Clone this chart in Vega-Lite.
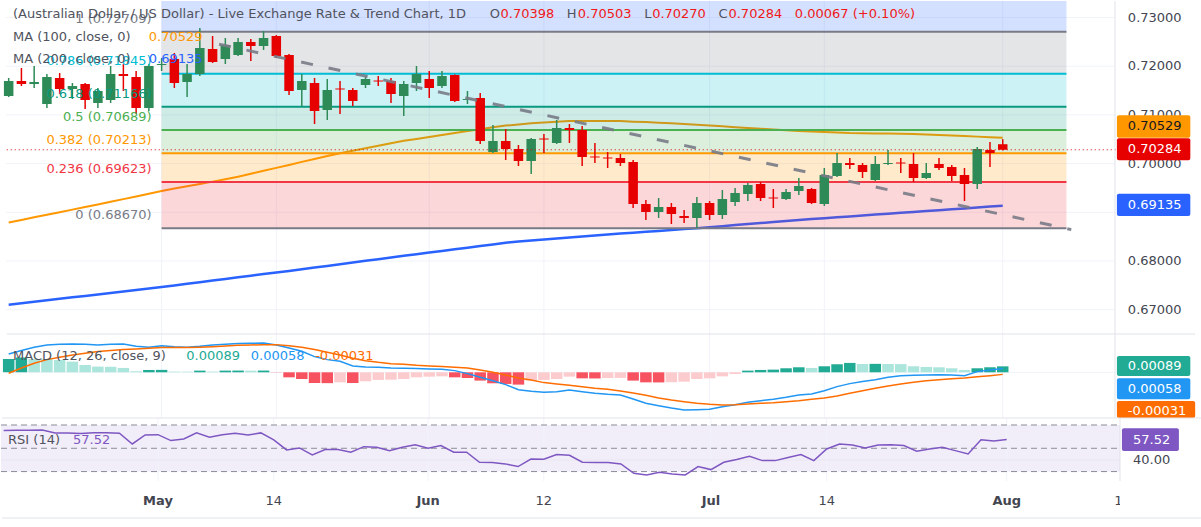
{
"$schema":"https://vega.github.io/schema/vega-lite/v6.json",
"padding":0,
"background":"#ffffff",
"spacing":0,
"bounds":"flush",
"resolve":{"scale":{"color":"independent","fill":"independent","stroke":"independent"}},
"config":{"view":{"stroke":null},"font":"DejaVu Sans","text":{"font":"DejaVu Sans","fontSize":13}},
"datasets":{
"bars":[
{"i":-12,"date":"2026-04-15","o":0.71388,"h":0.71758,"l":0.71368,"c":0.71696,"dir":"up","ma100":0.68791,"ma200":0.67103,"macd":0.00274,"signal":-0.00015,"hist":0.0020,"hs":"pu","rsi":65.2},
{"i":-11,"date":"2026-04-16","o":0.71696,"h":0.71963,"l":0.71593,"c":0.71635,"dir":"down","ma100":0.68844,"ma200":0.67133,"macd":0.00324,"signal":0.00065,"hist":0.0022,"hs":"pu","rsi":65.5},
{"i":-10,"date":"2026-04-17","o":0.71635,"h":0.72004,"l":0.71552,"c":0.71676,"dir":"up","ma100":0.68897,"ma200":0.67164,"macd":0.00374,"signal":0.00134,"hist":0.00199,"hs":"pd","rsi":65.5},
{"i":-9,"date":"2026-04-20","o":0.71224,"h":0.71840,"l":0.71142,"c":0.71778,"dir":"up","ma100":0.68951,"ma200":0.67193,"macd":0.00408,"signal":0.00189,"hist":0.00195,"hs":"pd","rsi":65.7},
{"i":-8,"date":"2026-04-21","o":0.71758,"h":0.71860,"l":0.71429,"c":0.71532,"dir":"down","ma100":0.69002,"ma200":0.67224,"macd":0.00418,"signal":0.00224,"hist":0.00184,"hs":"pd","rsi":63.2},
{"i":-7,"date":"2026-04-22","o":0.71532,"h":0.71655,"l":0.71326,"c":0.71593,"dir":"up","ma100":0.69055,"ma200":0.67255,"macd":0.00423,"signal":0.00259,"hist":0.00159,"hs":"pd","rsi":63.2},
{"i":-6,"date":"2026-04-23","o":0.71635,"h":0.71655,"l":0.71121,"c":0.71306,"dir":"down","ma100":0.69109,"ma200":0.67283,"macd":0.00418,"signal":0.00284,"hist":0.00109,"hs":"pd","rsi":62.6},
{"i":-5,"date":"2026-04-24","o":0.71244,"h":0.71552,"l":0.71142,"c":0.71491,"dir":"up","ma100":0.69160,"ma200":0.67314,"macd":0.00408,"signal":0.00309,"hist":0.00085,"hs":"pd","rsi":63.4},
{"i":-4,"date":"2026-04-27","o":0.71306,"h":0.72004,"l":0.71244,"c":0.71840,"dir":"up","ma100":0.69216,"ma200":0.67345,"macd":0.00418,"signal":0.00324,"hist":0.00082,"hs":"pd","rsi":63.4},
{"i":-3,"date":"2026-04-28","o":0.71840,"h":0.72045,"l":0.71491,"c":0.71799,"dir":"down","ma100":0.69271,"ma200":0.67376,"macd":0.00423,"signal":0.00339,"hist":0.00065,"hs":"pd","rsi":62.9},
{"i":-2,"date":"2026-04-29","o":0.71778,"h":0.71901,"l":0.71018,"c":0.71142,"dir":"down","ma100":0.69326,"ma200":0.67405,"macd":0.00388,"signal":0.00349,"hist":0.00015,"hs":"pd","rsi":53.7},
{"i":-1,"date":"2026-04-30","o":0.71142,"h":0.72045,"l":0.71080,"c":0.72004,"dir":"up","ma100":0.69382,"ma200":0.67435,"macd":0.00374,"signal":0.00359,"hist":0.00035,"hs":"pu","rsi":61.4},
{"i":0,"date":"2026-05-01","o":0.72025,"h":0.72168,"l":0.71901,"c":0.72045,"dir":"up","ma100":0.69437,"ma200":0.67466,"macd":0.00398,"signal":0.00369,"hist":0.00036,"hs":"pu","rsi":61.7},
{"i":1,"date":"2026-05-04","o":0.72148,"h":0.72271,"l":0.71552,"c":0.71655,"dir":"down","ma100":0.69487,"ma200":0.67499,"macd":0.00383,"signal":0.00369,"hist":0.0001,"hs":"pd","rsi":56.6},
{"i":2,"date":"2026-05-05","o":0.71676,"h":0.72045,"l":0.71368,"c":0.71840,"dir":"up","ma100":0.69534,"ma200":0.67532,"macd":0.00374,"signal":0.00369,"hist":0.00009,"hs":"pd","rsi":58.0},
{"i":3,"date":"2026-05-06","o":0.71840,"h":0.72784,"l":0.71799,"c":0.72374,"dir":"up","ma100":0.69583,"ma200":0.67565,"macd":0.00388,"signal":0.00374,"hist":0.00025,"hs":"pu","rsi":63.2},
{"i":4,"date":"2026-05-07","o":0.72353,"h":0.72620,"l":0.72066,"c":0.72086,"dir":"down","ma100":0.69630,"ma200":0.67600,"macd":0.00408,"signal":0.00383,"hist":0.0001,"hs":"pd","rsi":59.4},
{"i":5,"date":"2026-05-08","o":0.72148,"h":0.72579,"l":0.72045,"c":0.72435,"dir":"up","ma100":0.69680,"ma200":0.67632,"macd":0.00418,"signal":0.00393,"hist":0.00025,"hs":"pu","rsi":61.7},
{"i":6,"date":"2026-05-11","o":0.72230,"h":0.72579,"l":0.72209,"c":0.72497,"dir":"up","ma100":0.69731,"ma200":0.67665,"macd":0.00428,"signal":0.00403,"hist":0.00026,"hs":"pu","rsi":62.9},
{"i":7,"date":"2026-05-12","o":0.72497,"h":0.72559,"l":0.72107,"c":0.72415,"dir":"down","ma100":0.69791,"ma200":0.67698,"macd":0.00433,"signal":0.00408,"hist":0.00024,"hs":"pd","rsi":61.4},
{"i":8,"date":"2026-05-13","o":0.72415,"h":0.72723,"l":0.72333,"c":0.72579,"dir":"up","ma100":0.69852,"ma200":0.67731,"macd":0.00438,"signal":0.00413,"hist":0.00026,"hs":"pu","rsi":63.2},
{"i":9,"date":"2026-05-14","o":0.72620,"h":0.72641,"l":0.72168,"c":0.72209,"dir":"down","ma100":0.69912,"ma200":0.67764,"macd":0.00408,"signal":0.00413,"hist":-0.00003,"hs":"nd","rsi":57.2},
{"i":10,"date":"2026-05-15","o":0.72230,"h":0.72251,"l":0.71409,"c":0.71491,"dir":"down","ma100":0.69973,"ma200":0.67797,"macd":0.00364,"signal":0.00398,"hist":-0.00075,"hs":"nd","rsi":48.6},
{"i":11,"date":"2026-05-18","o":0.71511,"h":0.71840,"l":0.71183,"c":0.71696,"dir":"up","ma100":0.70035,"ma200":0.67832,"macd":0.00314,"signal":0.00374,"hist":-0.001,"hs":"nd","rsi":50.3},
{"i":12,"date":"2026-05-19","o":0.71655,"h":0.71758,"l":0.70813,"c":0.71080,"dir":"down","ma100":0.70094,"ma200":0.67866,"macd":0.00234,"signal":0.00339,"hist":-0.0016,"hs":"nd","rsi":44.3},
{"i":13,"date":"2026-05-20","o":0.71101,"h":0.71737,"l":0.70895,"c":0.71511,"dir":"up","ma100":0.70156,"ma200":0.67899,"macd":0.00189,"signal":0.00299,"hist":-0.00162,"hs":"nd","rsi":48.9},
{"i":14,"date":"2026-05-21","o":0.71542,"h":0.71696,"l":0.71018,"c":0.71522,"dir":"down","ma100":0.70214,"ma200":0.67934,"macd":0.00164,"signal":0.00259,"hist":-0.0015,"hs":"nu","rsi":48.9},
{"i":15,"date":"2026-05-22","o":0.71511,"h":0.71552,"l":0.71183,"c":0.71285,"dir":"down","ma100":0.70265,"ma200":0.67969,"macd":0.00095,"signal":0.00209,"hist":-0.0016,"hs":"nd","rsi":46.6},
{"i":16,"date":"2026-05-25","o":0.71614,"h":0.71799,"l":0.71552,"c":0.71737,"dir":"up","ma100":0.70316,"ma200":0.68004,"macd":0.0008,"signal":0.00174,"hist":-0.00134,"hs":"nu","rsi":51.4},
{"i":17,"date":"2026-05-26","o":0.71706,"h":0.71799,"l":0.71593,"c":0.71686,"dir":"down","ma100":0.70368,"ma200":0.68037,"macd":0.00075,"signal":0.00149,"hist":-0.00114,"hs":"nu","rsi":50.9},
{"i":18,"date":"2026-05-27","o":0.71696,"h":0.71758,"l":0.71244,"c":0.71429,"dir":"down","ma100":0.70419,"ma200":0.68072,"macd":0.00065,"signal":0.00129,"hist":-0.0011,"hs":"nu","rsi":48.0},
{"i":19,"date":"2026-05-28","o":0.71388,"h":0.71696,"l":0.70977,"c":0.71635,"dir":"up","ma100":0.70468,"ma200":0.68107,"macd":0.0006,"signal":0.0012,"hist":-0.001,"hs":"nu","rsi":50.9},
{"i":20,"date":"2026-05-29","o":0.71655,"h":0.72004,"l":0.71491,"c":0.71840,"dir":"up","ma100":0.70507,"ma200":0.68140,"macd":0.00055,"signal":0.00105,"hist":-0.00075,"hs":"nu","rsi":53.1},
{"i":21,"date":"2026-06-01","o":0.71737,"h":0.71901,"l":0.71347,"c":0.71552,"dir":"down","ma100":0.70548,"ma200":0.68175,"macd":0.0005,"signal":0.00095,"hist":-0.00065,"hs":"nu","rsi":50.0},
{"i":22,"date":"2026-06-02","o":0.71593,"h":0.71901,"l":0.71552,"c":0.71799,"dir":"up","ma100":0.70587,"ma200":0.68207,"macd":0.00045,"signal":0.00085,"hist":-0.0006,"hs":"nu","rsi":52.3},
{"i":23,"date":"2026-06-03","o":0.71819,"h":0.71830,"l":0.71265,"c":0.71285,"dir":"down","ma100":0.70628,"ma200":0.68240,"macd":0.00025,"signal":0.00075,"hist":-0.00075,"hs":"nd","rsi":46.6},
{"i":24,"date":"2026-06-04","o":0.71306,"h":0.71491,"l":0.71224,"c":0.71326,"dir":"up","ma100":0.70667,"ma200":0.68273,"macd":-0.0002,"signal":0.00065,"hist":-0.00085,"hs":"nd","rsi":46.6},
{"i":25,"date":"2026-06-05","o":0.71347,"h":0.71450,"l":0.70402,"c":0.70464,"dir":"down","ma100":0.70706,"ma200":0.68308,"macd":-0.00075,"signal":0.00035,"hist":-0.00124,"hs":"nd","rsi":38.0},
{"i":26,"date":"2026-06-08","o":0.70238,"h":0.70793,"l":0.70218,"c":0.70464,"dir":"up","ma100":0.70747,"ma200":0.68341,"macd":-0.00125,"signal":0.0,"hist":-0.00164,"hs":"nd","rsi":37.7},
{"i":27,"date":"2026-06-09","o":0.70464,"h":0.70710,"l":0.70074,"c":0.70300,"dir":"down","ma100":0.70780,"ma200":0.68374,"macd":-0.00184,"signal":-0.0004,"hist":-0.00174,"hs":"nd","rsi":36.6},
{"i":28,"date":"2026-06-10","o":0.70300,"h":0.70382,"l":0.69951,"c":0.70053,"dir":"down","ma100":0.70803,"ma200":0.68400,"macd":-0.00259,"signal":-0.00085,"hist":-0.00184,"hs":"nd","rsi":34.3},
{"i":29,"date":"2026-06-11","o":0.70053,"h":0.70526,"l":0.69786,"c":0.70505,"dir":"up","ma100":0.70828,"ma200":0.68421,"macd":-0.00284,"signal":-0.00115,"hist":-0.00124,"hs":"nu","rsi":40.8},
{"i":30,"date":"2026-06-12","o":0.70515,"h":0.70608,"l":0.70218,"c":0.70495,"dir":"down","ma100":0.70846,"ma200":0.68441,"macd":-0.00299,"signal":-0.00154,"hist":-0.00114,"hs":"nu","rsi":40.6},
{"i":31,"date":"2026-06-15","o":0.70423,"h":0.70895,"l":0.70402,"c":0.70731,"dir":"up","ma100":0.70860,"ma200":0.68462,"macd":-0.00289,"signal":-0.00174,"hist":-0.001,"hs":"nu","rsi":44.6},
{"i":32,"date":"2026-06-16","o":0.70731,"h":0.70813,"l":0.70423,"c":0.70690,"dir":"down","ma100":0.70875,"ma200":0.68483,"macd":-0.00264,"signal":-0.00194,"hist":-0.00065,"hs":"nu","rsi":44.0},
{"i":33,"date":"2026-06-17","o":0.70690,"h":0.70772,"l":0.69951,"c":0.70135,"dir":"down","ma100":0.70875,"ma200":0.68503,"macd":-0.00289,"signal":-0.00214,"hist":-0.0009,"hs":"nd","rsi":38.0},
{"i":34,"date":"2026-06-18","o":0.70146,"h":0.70423,"l":0.70012,"c":0.70126,"dir":"down","ma100":0.70875,"ma200":0.68524,"macd":-0.00314,"signal":-0.00239,"hist":-0.00092,"hs":"nd","rsi":37.7},
{"i":35,"date":"2026-06-19","o":0.70125,"h":0.70238,"l":0.69910,"c":0.70105,"dir":"down","ma100":0.70875,"ma200":0.68544,"macd":-0.00329,"signal":-0.00254,"hist":-0.00085,"hs":"nu","rsi":37.7},
{"i":36,"date":"2026-06-22","o":0.70115,"h":0.70197,"l":0.69951,"c":0.70012,"dir":"down","ma100":0.70873,"ma200":0.68563,"macd":-0.00339,"signal":-0.00279,"hist":-0.00084,"hs":"nu","rsi":36.6},
{"i":37,"date":"2026-06-23","o":0.70033,"h":0.70074,"l":0.69088,"c":0.69170,"dir":"down","ma100":0.70862,"ma200":0.68581,"macd":-0.00398,"signal":-0.00309,"hist":-0.00124,"hs":"nd","rsi":28.5},
{"i":38,"date":"2026-06-24","o":0.69170,"h":0.69253,"l":0.68842,"c":0.69006,"dir":"down","ma100":0.70852,"ma200":0.68600,"macd":-0.00463,"signal":-0.00344,"hist":-0.0015,"hs":"nd","rsi":27.1},
{"i":39,"date":"2026-06-25","o":0.69006,"h":0.69294,"l":0.68883,"c":0.69109,"dir":"up","ma100":0.70840,"ma200":0.68618,"macd":-0.00498,"signal":-0.00383,"hist":-0.00151,"hs":"nd","rsi":29.4},
{"i":40,"date":"2026-06-26","o":0.69109,"h":0.69191,"l":0.68760,"c":0.68965,"dir":"down","ma100":0.70828,"ma200":0.68637,"macd":-0.00533,"signal":-0.00413,"hist":-0.00148,"hs":"nu","rsi":28.0},
{"i":41,"date":"2026-06-29","o":0.68924,"h":0.69047,"l":0.68780,"c":0.68883,"dir":"down","ma100":0.70813,"ma200":0.68655,"macd":-0.00563,"signal":-0.00438,"hist":-0.0014,"hs":"nu","rsi":27.1},
{"i":42,"date":"2026-06-30","o":0.68883,"h":0.69314,"l":0.68678,"c":0.69191,"dir":"up","ma100":0.70797,"ma200":0.68674,"macd":-0.00558,"signal":-0.00463,"hist":-0.001,"hs":"nu","rsi":34.3},
{"i":43,"date":"2026-07-01","o":0.69191,"h":0.69232,"l":0.68842,"c":0.68944,"dir":"down","ma100":0.70780,"ma200":0.68694,"macd":-0.00553,"signal":-0.00478,"hist":-0.0009,"hs":"nu","rsi":31.7},
{"i":44,"date":"2026-07-02","o":0.68944,"h":0.69458,"l":0.68862,"c":0.69273,"dir":"up","ma100":0.70766,"ma200":0.68715,"macd":-0.00513,"signal":-0.00488,"hist":-0.0006,"hs":"nu","rsi":38.0},
{"i":45,"date":"2026-07-03","o":0.69211,"h":0.69499,"l":0.69129,"c":0.69396,"dir":"up","ma100":0.70749,"ma200":0.68737,"macd":-0.00483,"signal":-0.00483,"hist":-0.00025,"hs":"nu","rsi":40.3},
{"i":46,"date":"2026-07-06","o":0.69376,"h":0.69602,"l":0.69232,"c":0.69561,"dir":"up","ma100":0.70733,"ma200":0.68758,"macd":-0.00448,"signal":-0.00473,"hist":0.00025,"hs":"pu","rsi":43.1},
{"i":47,"date":"2026-07-07","o":0.69581,"h":0.69622,"l":0.69232,"c":0.69294,"dir":"down","ma100":0.70717,"ma200":0.68778,"macd":-0.00423,"signal":-0.00463,"hist":0.00035,"hs":"pu","rsi":39.4},
{"i":48,"date":"2026-07-08","o":0.69304,"h":0.69478,"l":0.69088,"c":0.69284,"dir":"down","ma100":0.70702,"ma200":0.68799,"macd":-0.00403,"signal":-0.00453,"hist":0.0004,"hs":"pu","rsi":39.4},
{"i":49,"date":"2026-07-09","o":0.69273,"h":0.69478,"l":0.69253,"c":0.69417,"dir":"up","ma100":0.70686,"ma200":0.68821,"macd":-0.00374,"signal":-0.00438,"hist":0.0006,"hs":"pu","rsi":42.0},
{"i":50,"date":"2026-07-10","o":0.69437,"h":0.69704,"l":0.69355,"c":0.69540,"dir":"up","ma100":0.70669,"ma200":0.68842,"macd":-0.00339,"signal":-0.00423,"hist":0.00075,"hs":"pu","rsi":44.6},
{"i":51,"date":"2026-07-13","o":0.69478,"h":0.69499,"l":0.69170,"c":0.69191,"dir":"down","ma100":0.70659,"ma200":0.68860,"macd":-0.00324,"signal":-0.00403,"hist":0.00065,"hs":"pd","rsi":39.4},
{"i":52,"date":"2026-07-14","o":0.69170,"h":0.69910,"l":0.69129,"c":0.69766,"dir":"up","ma100":0.70649,"ma200":0.68879,"macd":-0.00274,"signal":-0.00383,"hist":0.0009,"hs":"pu","rsi":49.4},
{"i":53,"date":"2026-07-15","o":0.69745,"h":0.70218,"l":0.69725,"c":0.70012,"dir":"up","ma100":0.70639,"ma200":0.68897,"macd":-0.00214,"signal":-0.00354,"hist":0.0012,"hs":"pu","rsi":53.7},
{"i":54,"date":"2026-07-16","o":0.70012,"h":0.70115,"l":0.69889,"c":0.69971,"dir":"down","ma100":0.70628,"ma200":0.68916,"macd":-0.00169,"signal":-0.00314,"hist":0.0014,"hs":"pu","rsi":52.9},
{"i":55,"date":"2026-07-17","o":0.69971,"h":0.70012,"l":0.69704,"c":0.69827,"dir":"down","ma100":0.70624,"ma200":0.68934,"macd":-0.00139,"signal":-0.00274,"hist":0.00124,"hs":"pd","rsi":50.3},
{"i":56,"date":"2026-07-20","o":0.69663,"h":0.70156,"l":0.69643,"c":0.69992,"dir":"up","ma100":0.70620,"ma200":0.68953,"macd":-0.0011,"signal":-0.00239,"hist":0.00126,"hs":"pu","rsi":52.9},
{"i":57,"date":"2026-07-21","o":0.69992,"h":0.70279,"l":0.69971,"c":0.70012,"dir":"up","ma100":0.70616,"ma200":0.68971,"macd":-0.00075,"signal":-0.00204,"hist":0.00124,"hs":"pd","rsi":53.1},
{"i":58,"date":"2026-07-22","o":0.70022,"h":0.70115,"l":0.69807,"c":0.70002,"dir":"down","ma100":0.70612,"ma200":0.68990,"macd":-0.0005,"signal":-0.00174,"hist":0.00122,"hs":"pd","rsi":52.3},
{"i":59,"date":"2026-07-23","o":0.69992,"h":0.70218,"l":0.69622,"c":0.69704,"dir":"down","ma100":0.70608,"ma200":0.69008,"macd":-0.00045,"signal":-0.00149,"hist":0.0009,"hs":"pd","rsi":47.4},
{"i":60,"date":"2026-07-24","o":0.69704,"h":0.70012,"l":0.69684,"c":0.69807,"dir":"up","ma100":0.70597,"ma200":0.69027,"macd":-0.0004,"signal":-0.00125,"hist":0.0008,"hs":"pd","rsi":49.4},
{"i":61,"date":"2026-07-27","o":0.69992,"h":0.70115,"l":0.69869,"c":0.69910,"dir":"down","ma100":0.70587,"ma200":0.69043,"macd":-0.00035,"signal":-0.0011,"hist":0.00075,"hs":"pd","rsi":50.9},
{"i":62,"date":"2026-07-28","o":0.69930,"h":0.69971,"l":0.69643,"c":0.69745,"dir":"down","ma100":0.70577,"ma200":0.69062,"macd":-0.0004,"signal":-0.00095,"hist":0.0006,"hs":"pd","rsi":48.0},
{"i":63,"date":"2026-07-29","o":0.69766,"h":0.69910,"l":0.69232,"c":0.69581,"dir":"down","ma100":0.70567,"ma200":0.69080,"macd":-0.0005,"signal":-0.00085,"hist":0.00035,"hs":"pd","rsi":45.1},
{"i":64,"date":"2026-07-30","o":0.69581,"h":0.70341,"l":0.69478,"c":0.70300,"dir":"up","ma100":0.70554,"ma200":0.69099,"macd":0.0001,"signal":-0.00065,"hist":0.0006,"hs":"pu","rsi":57.4},
{"i":65,"date":"2026-07-31","o":0.70279,"h":0.70443,"l":0.69930,"c":0.70218,"dir":"down","ma100":0.70542,"ma200":0.69117,"macd":0.00035,"signal":-0.0005,"hist":0.00075,"hs":"pu","rsi":56.3},
{"i":66,"date":"2026-08-03","o":0.70398,"h":0.70503,"l":0.70270,"c":0.70284,"dir":"down","ma100":0.70529,"ma200":0.69135,"macd":0.00058,"signal":-0.00031,"hist":0.00089,"hs":"pu","rsi":57.52}
],
"fibBands":[
{"level":"0.236","lo":0.6867,"hi":0.69623},
{"level":"0.382","lo":0.69623,"hi":0.70213},
{"level":"0.5","lo":0.70213,"hi":0.70689},
{"level":"0.618","lo":0.70689,"hi":0.71166},
{"level":"0.786","lo":0.71166,"hi":0.71845},
{"level":"1","lo":0.71845,"hi":0.72709},
{"level":"1.618","lo":0.72709,"hi":0.75205}
],
"fibLevels":[
{"level":"0","price":0.6867,"label":"0 (0.68670)"},
{"level":"0.236","price":0.69623,"label":"0.236 (0.69623)"},
{"level":"0.382","price":0.70213,"label":"0.382 (0.70213)"},
{"level":"0.5","price":0.70689,"label":"0.5 (0.70689)"},
{"level":"0.618","price":0.71166,"label":"0.618 (0.71166)"},
{"level":"0.786","price":0.71845,"label":"0.786 (0.71845)"},
{"level":"1","price":0.72709,"label":"1 (0.72709)"}
],
"trend":[{"i":4.51,"p":0.72452},{"i":71.38,"p":0.68645}],
"xTicks":[{"i":0},{"i":9},{"i":21},{"i":30},{"i":43},{"i":52},{"i":66}],
"priceTicks":[{"v":0.67,"label":"0.67000"},{"v":0.68,"label":"0.68000"},{"v":0.69,"label":"0.69000"},{"v":0.70,"label":"0.70000"},{"v":0.71,"label":"0.71000"},{"v":0.72,"label":"0.72000"},{"v":0.73,"label":"0.73000"}],
"rsiLevels":[{"v":70},{"v":50},{"v":30}],
"timeLabels":[
{"i":0,"label":"May","kind":"month"},
{"i":9,"label":"14","kind":"day"},
{"i":21,"label":"Jun","kind":"month"},
{"i":30,"label":"12","kind":"day"},
{"i":43,"label":"Jul","kind":"month"},
{"i":52,"label":"14","kind":"day"},
{"i":66,"label":"Aug","kind":"month"},
{"i":75,"label":"14","kind":"day"}
]
},
"vconcat":[
{
"width":1119,"height":333,
"layer":[
{"data":{"name":"xTicks"},"mark":{"type":"rule","color":"#f0f3fa","strokeWidth":1},
 "encoding":{"x":{"field":"i","type":"quantitative","scale":{"domain":[-12.21,74.81],"nice":false,"zero":false},"axis":null},"y":{"datum":0.66501,"type":"quantitative","axis":null},"y2":{"datum":0.73339}}},
{"data":{"name":"priceTicks"},"mark":{"type":"rule","color":"#f0f3fa","strokeWidth":1},
 "encoding":{"x":{"datum":-12.21,"type":"quantitative","axis":null},"x2":{"datum":74.81},"y":{"field":"v","type":"quantitative","scale":{"domain":[0.66501,0.73339],"nice":false,"zero":false},"axis":null}}},
{"data":{"name":"bars"},"mark":{"type":"line","color":"#2962ff","strokeWidth":2.5,"clip":true},
 "encoding":{"x":{"field":"i","type":"quantitative","axis":null},"y":{"field":"ma200","type":"quantitative","axis":null}}},
{"data":{"name":"bars"},"mark":{"type":"line","color":"#ff9800","strokeWidth":2,"clip":true},
 "encoding":{"x":{"field":"i","type":"quantitative","axis":null},"y":{"field":"ma100","type":"quantitative","axis":null}}},
{"data":{"name":"fibBands"},"mark":{"type":"rect","fillOpacity":0.2,"clip":true},
 "encoding":{"x":{"datum":0,"type":"quantitative","axis":null},"x2":{"datum":71},"y":{"field":"lo","type":"quantitative","axis":null},"y2":{"field":"hi"},
  "fill":{"field":"level","type":"nominal","legend":null,"scale":{"domain":["0.236","0.382","0.5","0.618","0.786","1","1.618"],"range":["#f23645","#ff9800","#4caf50","#089981","#00bcd4","#787b86","#2962ff"]}}}},
{"data":{"name":"fibLevels"},"mark":{"type":"rule","strokeWidth":2,"clip":true},
 "encoding":{"x":{"datum":0,"type":"quantitative","axis":null},"x2":{"datum":71},"y":{"field":"price","type":"quantitative","axis":null},
  "stroke":{"field":"level","type":"nominal","legend":null,"scale":{"domain":["0","0.236","0.382","0.5","0.618","0.786","1"],"range":["#787b86","#f23645","#ff9800","#4caf50","#089981","#00bcd4","#787b86"]}}}},
{"data":{"name":"bars"},"mark":{"type":"rule","strokeWidth":1.5,"clip":true},
 "encoding":{"x":{"field":"i","type":"quantitative","axis":null},"y":{"field":"l","type":"quantitative","axis":null},"y2":{"field":"h"},
  "color":{"field":"dir","type":"nominal","legend":null,"scale":{"domain":["up","down","0","0.236","0.382","0.5","0.618","0.786","1"],"range":["#2e8b57","#e60000","#787b86","#f23645","#ff9800","#4caf50","#089981","#00bcd4","#787b86"]}}}},
{"data":{"name":"bars"},"mark":{"type":"bar","width":9.5,"clip":true},
 "encoding":{"x":{"field":"i","type":"quantitative","axis":null},"y":{"field":"o","type":"quantitative","axis":null},"y2":{"field":"c"},
  "color":{"field":"dir","type":"nominal","legend":null,"scale":{"domain":["up","down","0","0.236","0.382","0.5","0.618","0.786","1"],"range":["#2e8b57","#e60000","#787b86","#f23645","#ff9800","#4caf50","#089981","#00bcd4","#787b86"]}}}},
{"data":{"name":"trend"},"mark":{"type":"line","color":"#787b86","strokeWidth":3,"strokeDash":[12,16],"opacity":0.9,"clip":true},
 "encoding":{"x":{"field":"i","type":"quantitative","axis":null},"y":{"field":"p","type":"quantitative","axis":null}}},
{"data":{"values":[{"last":0.70284}]},"mark":{"type":"rule","color":"#e60000","strokeWidth":1,"strokeDash":[1,3]},
 "encoding":{"x":{"datum":-12.15,"type":"quantitative","axis":null},"x2":{"datum":74.96},"y":{"field":"last","type":"quantitative","axis":null}}},
{"data":{"values":[{}]},"mark":{"type":"rule","color":"#e0e3eb","strokeWidth":1},
 "encoding":{"x":{"datum":74.81,"type":"quantitative","axis":null},"y":{"datum":0.66501,"type":"quantitative","axis":null},"y2":{"datum":0.73339}}},
{"data":{"name":"priceTicks"},"mark":{"type":"text","align":"left","baseline":"middle","fontSize":13,"color":"#434651"},
 "encoding":{"x":{"datum":75.82,"type":"quantitative","axis":null},"y":{"field":"v","type":"quantitative","axis":null},"text":{"field":"label"}}},
{"data":{"name":"fibLevels"},"mark":{"type":"text","align":"right","baseline":"middle","dy":-13,"fontSize":13},
 "encoding":{"x":{"datum":-0.78,"type":"quantitative","axis":null},"y":{"field":"price","type":"quantitative","axis":null},"text":{"field":"label"},
  "color":{"field":"level","type":"nominal","legend":null,"scale":{"domain":["up","down","0","0.236","0.382","0.5","0.618","0.786","1"],"range":["#2e8b57","#e60000","#787b86","#f23645","#ff9800","#4caf50","#089981","#00bcd4","#787b86"]}}}},
{"data":{"values":[{"t":"(Australian Dollar / US Dollar) - Live Exchange Rate & Trend Chart, 1D"}]},"mark":{"type":"text","align":"left","baseline":"middle","fontSize":13,"color":"#50535e"},
 "encoding":{"x":{"datum":-11.66,"type":"quantitative","axis":null},"y":{"datum":0.73072,"type":"quantitative","axis":null},"text":{"field":"t"}}},
{"data":{"values":[{"t":"O"}]},"mark":{"type":"text","align":"left","baseline":"middle","fontSize":13,"color":"#50535e"},
 "encoding":{"x":{"datum":25.74,"type":"quantitative","axis":null},"y":{"datum":0.73072,"type":"quantitative","axis":null},"text":{"field":"t"}}},
{"data":{"values":[{"t":"0.70398"}]},"mark":{"type":"text","align":"left","baseline":"middle","fontSize":13,"color":"#f01818"},
 "encoding":{"x":{"datum":26.59,"type":"quantitative","axis":null},"y":{"datum":0.73072,"type":"quantitative","axis":null},"text":{"field":"t"}}},
{"data":{"values":[{"t":"H"}]},"mark":{"type":"text","align":"left","baseline":"middle","fontSize":13,"color":"#50535e"},
 "encoding":{"x":{"datum":31.8,"type":"quantitative","axis":null},"y":{"datum":0.73072,"type":"quantitative","axis":null},"text":{"field":"t"}}},
{"data":{"values":[{"t":"0.70503"}]},"mark":{"type":"text","align":"left","baseline":"middle","fontSize":13,"color":"#f01818"},
 "encoding":{"x":{"datum":32.66,"type":"quantitative","axis":null},"y":{"datum":0.73072,"type":"quantitative","axis":null},"text":{"field":"t"}}},
{"data":{"values":[{"t":"L"}]},"mark":{"type":"text","align":"left","baseline":"middle","fontSize":13,"color":"#50535e"},
 "encoding":{"x":{"datum":37.87,"type":"quantitative","axis":null},"y":{"datum":0.73072,"type":"quantitative","axis":null},"text":{"field":"t"}}},
{"data":{"values":[{"t":"0.70270"}]},"mark":{"type":"text","align":"left","baseline":"middle","fontSize":13,"color":"#f01818"},
 "encoding":{"x":{"datum":38.49,"type":"quantitative","axis":null},"y":{"datum":0.73072,"type":"quantitative","axis":null},"text":{"field":"t"}}},
{"data":{"values":[{"t":"C"}]},"mark":{"type":"text","align":"left","baseline":"middle","fontSize":13,"color":"#50535e"},
 "encoding":{"x":{"datum":43.7,"type":"quantitative","axis":null},"y":{"datum":0.73072,"type":"quantitative","axis":null},"text":{"field":"t"}}},
{"data":{"values":[{"t":"0.70284"}]},"mark":{"type":"text","align":"left","baseline":"middle","fontSize":13,"color":"#f01818"},
 "encoding":{"x":{"datum":44.48,"type":"quantitative","axis":null},"y":{"datum":0.73072,"type":"quantitative","axis":null},"text":{"field":"t"}}},
{"data":{"values":[{"t":"0.00067 (+0.10%)"}]},"mark":{"type":"text","align":"left","baseline":"middle","fontSize":13,"color":"#f01818"},
 "encoding":{"x":{"datum":49.69,"type":"quantitative","axis":null},"y":{"datum":0.73072,"type":"quantitative","axis":null},"text":{"field":"t"}}},
{"data":{"values":[{"t":"MA (100, close, 0)"}]},"mark":{"type":"text","align":"left","baseline":"middle","fontSize":13,"color":"#50535e"},
 "encoding":{"x":{"datum":-11.66,"type":"quantitative","axis":null},"y":{"datum":0.726,"type":"quantitative","axis":null},"text":{"field":"t"}}},
{"data":{"values":[{"t":"0.70529"}]},"mark":{"type":"text","align":"left","baseline":"middle","fontSize":13,"color":"#ff9800"},
 "encoding":{"x":{"datum":-1.01,"type":"quantitative","axis":null},"y":{"datum":0.726,"type":"quantitative","axis":null},"text":{"field":"t"}}},
{"data":{"values":[{"t":"MA (200, close, 0)"}]},"mark":{"type":"text","align":"left","baseline":"middle","fontSize":13,"color":"#50535e"},
 "encoding":{"x":{"datum":-11.66,"type":"quantitative","axis":null},"y":{"datum":0.72142,"type":"quantitative","axis":null},"text":{"field":"t"}}},
{"data":{"values":[{"t":"0.69135"}]},"mark":{"type":"text","align":"left","baseline":"middle","fontSize":13,"color":"#2962ff"},
 "encoding":{"x":{"datum":-1.01,"type":"quantitative","axis":null},"y":{"datum":0.72142,"type":"quantitative","axis":null},"text":{"field":"t"}}},
{"data":{"values":[{}]},"mark":{"type":"rect","color":"#ff9800","cornerRadius":2},
 "encoding":{"x":{"datum":74.96,"type":"quantitative","axis":null},"x2":{"datum":80.72},"y":{"datum":0.70992,"type":"quantitative","axis":null},"y2":{"datum":0.70532}}},
{"data":{"values":[{}]},"mark":{"type":"rect","color":"#e60000","cornerRadius":2},
 "encoding":{"x":{"datum":74.96,"type":"quantitative","axis":null},"x2":{"datum":80.72},"y":{"datum":0.70519,"type":"quantitative","axis":null},"y2":{"datum":0.70068}}},
{"data":{"values":[{}]},"mark":{"type":"rect","color":"#2962ff","cornerRadius":2},
 "encoding":{"x":{"datum":74.96,"type":"quantitative","axis":null},"x2":{"datum":80.72},"y":{"datum":0.69382,"type":"quantitative","axis":null},"y2":{"datum":0.68924}}},
{"data":{"values":[{"t":"0.70529"}]},"mark":{"type":"text","align":"left","baseline":"middle","fontSize":13,"color":"#131722"},
 "encoding":{"x":{"datum":75.82,"type":"quantitative","axis":null},"y":{"datum":0.70762,"type":"quantitative","axis":null},"text":{"field":"t"}}},
{"data":{"values":[{"t":"0.70284"}]},"mark":{"type":"text","align":"left","baseline":"middle","fontSize":13,"color":"#ffffff"},
 "encoding":{"x":{"datum":75.82,"type":"quantitative","axis":null},"y":{"datum":0.70294,"type":"quantitative","axis":null},"text":{"field":"t"}}},
{"data":{"values":[{"t":"0.69135"}]},"mark":{"type":"text","align":"left","baseline":"middle","fontSize":13,"color":"#ffffff"},
 "encoding":{"x":{"datum":75.82,"type":"quantitative","axis":null},"y":{"datum":0.69153,"type":"quantitative","axis":null},"text":{"field":"t"}}}
]
},
{
"width":1119,"height":84,
"layer":[
{"data":{"name":"xTicks"},"mark":{"type":"rule","color":"#f0f3fa","strokeWidth":1},
 "encoding":{"x":{"field":"i","type":"quantitative","scale":{"domain":[-12.21,74.81],"nice":false,"zero":false},"axis":null},"y":{"datum":-0.006821,"type":"quantitative","axis":null},"y2":{"datum":0.005716}}},
{"data":{"values":[{"v":0}]},"mark":{"type":"rule","color":"#f0f3fa","strokeWidth":1},
 "encoding":{"x":{"datum":-12.21,"type":"quantitative","axis":null},"x2":{"datum":74.81},"y":{"field":"v","type":"quantitative","scale":{"domain":[-0.006821,0.005716],"nice":false,"zero":false},"axis":null}}},
{"data":{"name":"bars"},"mark":{"type":"bar","width":11.5,"clip":true},
 "encoding":{"x":{"field":"i","type":"quantitative","axis":null},"y":{"field":"hist","type":"quantitative","axis":null},"y2":{"datum":0},
  "color":{"field":"hs","type":"nominal","legend":null,"scale":{"domain":["pu","pd","nd","nu"],"range":["#22ab94","#ace5dc","#f7525f","#fccbcd"]}}}},
{"data":{"name":"bars"},"mark":{"type":"line","color":"#2196f3","strokeWidth":1.5,"clip":true},
 "encoding":{"x":{"field":"i","type":"quantitative","axis":null},"y":{"field":"macd","type":"quantitative","axis":null}}},
{"data":{"name":"bars"},"mark":{"type":"line","color":"#ff6d00","strokeWidth":1.5,"clip":true},
 "encoding":{"x":{"field":"i","type":"quantitative","axis":null},"y":{"field":"signal","type":"quantitative","axis":null}}},
{"data":{"values":[{}]},"mark":{"type":"rule","color":"#e0e3eb","strokeWidth":1},
 "encoding":{"x":{"datum":-12.15,"type":"quantitative","axis":null},"x2":{"datum":81.1},"y":{"datum":0.005716,"type":"quantitative","axis":null}}},
{"data":{"values":[{}]},"mark":{"type":"rule","color":"#e0e3eb","strokeWidth":1},
 "encoding":{"x":{"datum":74.81,"type":"quantitative","axis":null},"y":{"datum":-0.006821,"type":"quantitative","axis":null},"y2":{"datum":0.005716}}},
{"data":{"values":[{"t":"MACD (12, 26, close, 9)"}]},"mark":{"type":"text","align":"left","baseline":"middle","fontSize":13,"color":"#50535e"},
 "encoding":{"x":{"datum":-11.66,"type":"quantitative","axis":null},"y":{"datum":0.002478,"type":"quantitative","axis":null},"text":{"field":"t"}}},
{"data":{"values":[{"t":"0.00089"}]},"mark":{"type":"text","align":"left","baseline":"middle","fontSize":13,"color":"#22ab94"},
 "encoding":{"x":{"datum":1.94,"type":"quantitative","axis":null},"y":{"datum":0.002478,"type":"quantitative","axis":null},"text":{"field":"t"}}},
{"data":{"values":[{"t":"0.00058"}]},"mark":{"type":"text","align":"left","baseline":"middle","fontSize":13,"color":"#2196f3"},
 "encoding":{"x":{"datum":7.0,"type":"quantitative","axis":null},"y":{"datum":0.002478,"type":"quantitative","axis":null},"text":{"field":"t"}}},
{"data":{"values":[{"t":"-0.00031"}]},"mark":{"type":"text","align":"left","baseline":"middle","fontSize":13,"color":"#ff6d00"},
 "encoding":{"x":{"datum":12.05,"type":"quantitative","axis":null},"y":{"datum":0.002478,"type":"quantitative","axis":null},"text":{"field":"t"}}},
{"data":{"values":[{}]},"mark":{"type":"rect","color":"#22ab94","cornerRadius":2},
 "encoding":{"x":{"datum":74.96,"type":"quantitative","axis":null},"x2":{"datum":80.72},"y":{"datum":0.002433,"type":"quantitative","axis":null},"y2":{"datum":-0.000552}}},
{"data":{"values":[{}]},"mark":{"type":"rect","color":"#2196f3","cornerRadius":2},
 "encoding":{"x":{"datum":74.96,"type":"quantitative","axis":null},"x2":{"datum":80.72},"y":{"datum":-0.000896,"type":"quantitative","axis":null},"y2":{"datum":-0.00403}}},
{"data":{"values":[{}]},"mark":{"type":"rect","color":"#ff6d00","cornerRadius":2},
 "encoding":{"x":{"datum":74.96,"type":"quantitative","axis":null},"x2":{"datum":81.1},"y":{"datum":-0.004284,"type":"quantitative","axis":null},"y2":{"datum":-0.006821}}},
{"data":{"values":[{"t":"0.00089"}]},"mark":{"type":"text","align":"left","baseline":"middle","fontSize":13,"color":"#ffffff"},
 "encoding":{"x":{"datum":75.82,"type":"quantitative","axis":null},"y":{"datum":0.00094,"type":"quantitative","axis":null},"text":{"field":"t"}}},
{"data":{"values":[{"t":"0.00058"}]},"mark":{"type":"text","align":"left","baseline":"middle","fontSize":13,"color":"#ffffff"},
 "encoding":{"x":{"datum":75.82,"type":"quantitative","axis":null},"y":{"datum":-0.002463,"type":"quantitative","axis":null},"text":{"field":"t"}}},
{"data":{"values":[{"t":"-0.00031"}]},"mark":{"type":"text","align":"left","baseline":"middle","fontSize":13,"color":"#ffffff"},
 "encoding":{"x":{"datum":75.82,"type":"quantitative","axis":null},"y":{"datum":-0.005776,"type":"quantitative","axis":null},"text":{"field":"t"}}}
]
},
{
"width":1119,"height":63,
"layer":[
{"data":{"values":[{}]},"mark":{"type":"rect","color":"#7e57c2","opacity":0.1},
 "encoding":{"x":{"datum":-12.21,"type":"quantitative","axis":null},"x2":{"datum":74.81},"y":{"datum":30,"type":"quantitative","axis":null},"y2":{"datum":70}}},
{"data":{"name":"xTicks"},"mark":{"type":"rule","color":"#f0f3fa","strokeWidth":1},
 "encoding":{"x":{"field":"i","type":"quantitative","scale":{"domain":[-12.21,74.81],"nice":false,"zero":false},"axis":null},"y":{"datum":21.9,"type":"quantitative","axis":null},"y2":{"datum":76.0}}},
{"data":{"values":[{"v":40,"label":"40.00"}]},"mark":{"type":"rule","color":"#e9e6f1","strokeWidth":1},
 "encoding":{"x":{"datum":-12.21,"type":"quantitative","axis":null},"x2":{"datum":74.81},"y":{"field":"v","type":"quantitative","scale":{"domain":[21.9,76.0],"nice":false,"zero":false},"axis":null}}},
{"data":{"name":"rsiLevels"},"mark":{"type":"rule","color":"#8a8d96","strokeWidth":1,"strokeDash":[6,4]},
 "encoding":{"x":{"datum":-12.21,"type":"quantitative","axis":null},"x2":{"datum":74.81},"y":{"field":"v","type":"quantitative","axis":null}}},
{"data":{"name":"bars"},"mark":{"type":"line","color":"#7e57c2","strokeWidth":1.5,"clip":true},
 "encoding":{"x":{"field":"i","type":"quantitative","axis":null},"y":{"field":"rsi","type":"quantitative","axis":null}}},
{"data":{"values":[{}]},"mark":{"type":"rule","color":"#e0e3eb","strokeWidth":1},
 "encoding":{"x":{"datum":-12.15,"type":"quantitative","axis":null},"x2":{"datum":81.1},"y":{"datum":76.0,"type":"quantitative","axis":null}}},
{"data":{"values":[{}]},"mark":{"type":"rule","color":"#e0e3eb","strokeWidth":1},
 "encoding":{"x":{"datum":74.81,"type":"quantitative","axis":null},"y":{"datum":21.9,"type":"quantitative","axis":null},"y2":{"datum":76.0}}},
{"data":{"values":[{"v":40,"label":"40.00"}]},"mark":{"type":"text","align":"left","baseline":"middle","fontSize":13,"color":"#434651"},
 "encoding":{"x":{"datum":75.82,"type":"quantitative","axis":null},"y":{"field":"v","type":"quantitative","axis":null},"text":{"field":"label"}}},
{"data":{"values":[{"t":"RSI (14)"}]},"mark":{"type":"text","align":"left","baseline":"middle","fontSize":13,"color":"#50535e"},
 "encoding":{"x":{"datum":-11.66,"type":"quantitative","axis":null},"y":{"datum":57.1,"type":"quantitative","axis":null},"text":{"field":"t"}}},
{"data":{"values":[{"t":"57.52"}]},"mark":{"type":"text","align":"left","baseline":"middle","fontSize":13,"color":"#7e57c2"},
 "encoding":{"x":{"datum":-6.61,"type":"quantitative","axis":null},"y":{"datum":57.1,"type":"quantitative","axis":null},"text":{"field":"t"}}},
{"data":{"values":[{}]},"mark":{"type":"rect","color":"#7e57c2","cornerRadius":2},
 "encoding":{"x":{"datum":74.96,"type":"quantitative","axis":null},"x2":{"datum":79.39},"y":{"datum":67.17,"type":"quantitative","axis":null},"y2":{"datum":47.68}}},
{"data":{"values":[{"t":"57.52"}]},"mark":{"type":"text","align":"left","baseline":"middle","fontSize":13,"color":"#ffffff"},
 "encoding":{"x":{"datum":75.82,"type":"quantitative","axis":null},"y":{"datum":57.4,"type":"quantitative","axis":null},"text":{"field":"t"}}}
]
},
{
"width":1119,"height":47,
"layer":[
{"data":{"name":"timeLabels"},"transform":[{"filter":"datum.kind == 'month'"}],"mark":{"type":"text","fontSize":13,"fontWeight":"bold","color":"#434651","baseline":"middle","clip":true},
 "encoding":{"x":{"field":"i","type":"quantitative","scale":{"domain":[-12.21,74.81],"nice":false,"zero":false},"axis":null},"y":{"datum":27,"type":"quantitative","scale":{"domain":[0,47],"nice":false,"zero":false},"axis":null},"text":{"field":"label"}}},
{"data":{"name":"timeLabels"},"transform":[{"filter":"datum.kind == 'day'"}],"mark":{"type":"text","fontSize":13,"color":"#434651","baseline":"middle","clip":true},
 "encoding":{"x":{"field":"i","type":"quantitative","axis":null},"y":{"datum":27,"type":"quantitative","axis":null},"text":{"field":"label"}}},
{"data":{"values":[{}]},"mark":{"type":"rule","color":"#e0e3eb","strokeWidth":1},
 "encoding":{"x":{"datum":-12.15,"type":"quantitative","axis":null},"x2":{"datum":81.1},"y":{"datum":10,"type":"quantitative","axis":null}}}
]
}
]
}
